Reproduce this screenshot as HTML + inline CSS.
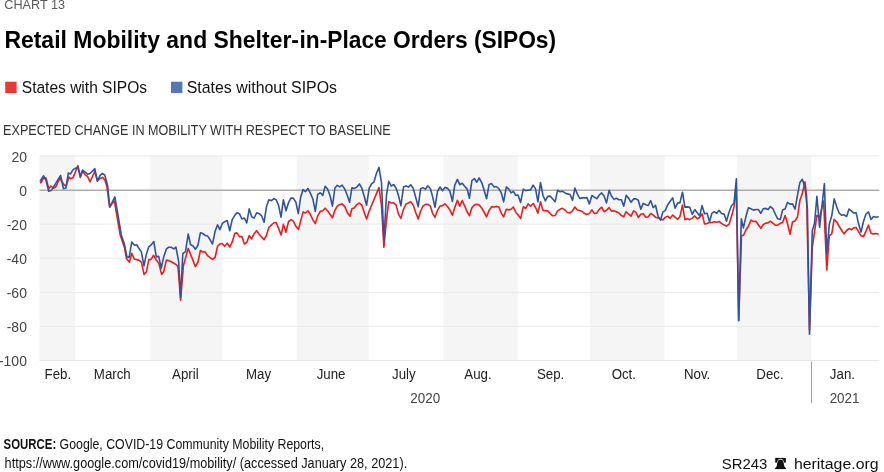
<!DOCTYPE html>
<html lang="en"><head><meta charset="utf-8"><title>Retail Mobility and Shelter-in-Place Orders (SIPOs)</title>
<style>html,body{margin:0;padding:0;background:#fff;overflow:hidden}svg{display:block}text{font-family:"Liberation Sans",sans-serif}</style></head><body>
<svg width="884" height="472" viewBox="0 0 884 472">
<rect width="884" height="472" fill="#fff"/>
<rect x="39.5" y="155.9" width="35.7" height="204.6" fill="#f5f5f5"/>
<rect x="149.8" y="155.9" width="72.2" height="204.6" fill="#f5f5f5"/>
<rect x="296.6" y="155.9" width="72.2" height="204.6" fill="#f5f5f5"/>
<rect x="443.3" y="155.9" width="74.6" height="204.6" fill="#f5f5f5"/>
<rect x="590.1" y="155.9" width="74.6" height="204.6" fill="#f5f5f5"/>
<rect x="736.9" y="155.9" width="74.6" height="204.6" fill="#f5f5f5"/>
<line x1="39.5" x2="879.4" y1="155.9" y2="155.9" stroke="#e9e9e9" stroke-width="1"/>
<line x1="39.5" x2="879.4" y1="224.1" y2="224.1" stroke="#e9e9e9" stroke-width="1"/>
<line x1="39.5" x2="879.4" y1="258.2" y2="258.2" stroke="#e9e9e9" stroke-width="1"/>
<line x1="39.5" x2="879.4" y1="292.3" y2="292.3" stroke="#e9e9e9" stroke-width="1"/>
<line x1="39.5" x2="879.4" y1="326.4" y2="326.4" stroke="#e9e9e9" stroke-width="1"/>
<line x1="39.5" x2="879.4" y1="360.5" y2="360.5" stroke="#e6e6e6" stroke-width="1.2"/>
<rect x="39.5" y="189.5" width="839.9" height="1.5" fill="#acacac"/>
<line x1="811.5" x2="811.5" y1="361.5" y2="403.3" stroke="#8a8a8a" stroke-width="0.8"/>
<polyline fill="none" stroke="#ec1c1c" stroke-width="1.6" stroke-linejoin="round" stroke-linecap="butt" points="40.0,183.1 41.3,182.3 43.6,177.8 46.1,178.1 48.7,188.7 50.8,186.0 53.5,188.2 55.6,187.1 59.9,178.1 62.0,181.8 64.1,185.0 66.2,186.0 68.9,177.0 70.5,178.8 73.1,177.6 77.9,165.7 80.3,177.4 82.6,171.2 85.3,174.9 87.6,176.5 90.1,181.8 94.8,171.2 97.4,180.7 100.1,178.4 102.5,177.4 104.8,179.7 107.0,187.1 109.6,206.8 114.4,201.0 120.2,235.0 121.5,238.8 124.4,247.3 126.5,258.5 129.4,262.2 131.8,253.2 134.2,259.0 136.6,259.6 138.9,260.1 141.4,262.2 144.0,274.4 146.5,271.8 148.8,259.6 150.9,259.6 153.6,255.3 156.3,260.1 158.9,263.3 161.6,274.4 163.7,271.8 166.4,260.1 168.5,260.6 171.1,261.7 173.8,263.3 176.5,264.9 178.0,266.7 180.6,300.2 183.4,265.6 188.2,248.4 192.9,260.1 195.4,266.5 198.0,262.2 200.4,250.5 202.6,252.0 205.0,251.7 207.5,255.7 209.8,257.3 212.5,259.4 215.1,257.3 217.6,246.2 219.9,244.0 222.1,243.5 224.7,246.2 227.2,243.2 229.8,247.0 232.2,241.9 234.8,233.4 236.9,232.9 239.4,236.6 241.9,236.6 244.4,244.0 246.8,242.4 249.2,235.5 251.5,238.9 254.0,233.9 256.6,230.7 259.3,234.5 264.1,239.6 266.4,235.5 268.8,227.5 271.5,224.9 274.2,222.5 276.3,222.8 278.7,228.6 281.1,235.0 283.4,224.4 285.9,232.3 288.5,221.7 290.9,219.6 293.2,220.9 295.9,226.3 298.5,229.4 300.7,220.9 303.1,211.9 305.4,213.0 307.9,210.8 310.2,214.0 312.9,219.9 315.3,223.6 317.7,216.2 320.3,211.4 322.8,210.8 325.1,208.2 327.6,210.8 330.1,214.6 332.4,217.7 334.9,210.3 337.3,206.1 339.8,204.5 342.1,203.9 344.8,206.6 347.5,213.0 350.0,216.2 351.9,208.8 354.4,207.8 356.8,204.6 359.4,203.0 361.8,205.1 364.2,212.5 366.6,218.9 369.2,211.0 379.0,187.6 381.5,205.6 383.9,247.1 386.3,221.6 388.7,201.6 391.3,203.0 393.7,202.7 396.1,205.1 398.5,214.1 400.9,218.4 403.5,209.4 405.9,204.0 408.4,203.0 410.7,201.6 413.2,205.1 415.7,212.5 418.2,218.9 420.6,211.0 422.9,206.2 425.4,204.4 427.8,204.4 430.4,206.2 432.5,213.1 435.0,217.3 437.5,210.4 440.0,206.2 442.5,205.6 444.9,203.8 447.3,206.2 449.9,209.9 452.4,215.2 454.7,207.7 457.4,200.3 459.8,206.2 462.2,200.6 464.8,206.2 467.2,212.0 469.4,215.7 471.9,207.7 474.4,205.1 476.8,204.3 479.2,205.1 481.8,208.3 484.3,212.5 486.6,216.8 489.1,210.4 491.6,206.7 494.1,207.0 496.2,206.4 498.8,207.0 501.3,213.1 503.6,216.8 506.3,209.3 508.7,209.9 511.1,209.3 513.4,207.0 515.9,212.5 518.0,214.7 520.6,218.4 523.3,206.7 525.7,208.5 528.1,203.8 530.5,206.2 533.1,203.5 535.5,207.2 537.9,213.1 540.5,201.7 543.0,210.4 545.4,210.6 547.7,210.9 550.2,213.6 552.5,215.7 555.2,215.5 557.6,210.9 560.0,209.3 562.4,208.3 565.1,210.2 567.4,212.5 570.1,212.9 572.5,210.9 574.9,207.0 577.3,209.9 579.7,210.6 582.3,211.5 584.4,213.4 586.9,214.4 589.3,213.6 591.9,209.9 594.3,213.4 596.8,213.1 599.3,209.3 601.7,207.2 604.1,211.7 606.5,210.3 609.1,207.6 611.5,211.1 614.0,210.8 616.3,211.7 619.0,213.0 621.4,215.6 623.8,216.7 626.2,211.7 628.6,214.2 631.0,216.2 633.6,210.8 636.0,212.4 638.3,217.4 640.8,214.2 643.2,213.8 645.8,217.2 648.2,216.7 650.7,213.5 653.2,215.1 655.5,217.2 658.1,218.1 660.5,218.8 662.9,219.9 665.2,217.4 667.7,216.2 670.2,218.3 672.7,215.1 675.1,217.2 677.7,219.3 679.9,216.7 682.5,205.0 684.9,219.6 687.5,218.8 689.8,219.7 692.3,218.1 694.8,215.9 697.3,218.8 699.6,217.5 702.1,213.8 704.5,223.9 706.9,223.6 709.4,222.5 711.9,222.5 714.4,221.7 716.8,222.2 719.1,221.5 721.8,223.6 724.2,225.0 726.6,226.1 729.2,224.1 731.9,215.1 734.2,206.1 736.2,183.7 738.7,320.4 741.5,235.8 743.6,235.3 745.9,230.0 748.4,226.3 751.0,220.1 753.5,221.5 756.0,221.2 758.3,224.7 760.8,228.2 763.3,224.7 765.7,223.1 768.1,222.9 770.4,221.2 772.8,223.1 775.3,225.2 777.6,225.2 780.3,223.3 782.7,222.5 785.1,215.6 787.4,223.1 790.1,234.2 792.5,222.0 795.1,220.7 797.5,217.0 799.9,200.5 802.3,193.6 805.0,181.9 806.6,196.3 809.5,330.0 812.3,247.5 816.9,215.4 819.6,217.5 823.6,201.1 826.8,270.0 829.3,235.8 831.8,233.7 834.1,219.4 836.8,222.0 839.1,226.3 841.8,230.5 844.0,233.9 846.6,230.5 849.0,228.6 851.5,229.7 853.8,227.9 856.1,227.5 858.6,231.6 861.0,235.8 863.6,236.4 866.0,231.1 868.5,225.2 871.0,233.2 873.5,233.9 875.9,233.5 878.8,234.2"/>
<polyline fill="none" stroke="#2e539f" stroke-width="1.6" stroke-linejoin="round" stroke-linecap="butt" points="40.0,181.5 43.6,175.8 46.1,180.7 48.7,191.3 51.4,190.3 60.6,175.4 63.4,188.7 65.9,188.0 68.3,173.1 70.5,173.9 73.1,169.6 77.9,167.0 80.3,176.5 82.6,170.1 87.6,174.2 90.1,173.5 94.8,168.6 97.4,181.3 100.1,175.4 102.5,173.5 104.8,175.2 107.5,185.0 109.8,207.1 114.9,196.9 121.3,235.0 124.4,244.1 127.0,256.9 129.1,257.4 131.8,242.0 134.5,245.2 136.6,244.7 141.4,252.1 144.0,265.9 146.2,254.8 148.8,246.8 150.9,245.2 153.8,241.5 156.3,256.9 158.7,256.4 161.3,268.1 163.7,256.9 166.4,248.9 168.5,247.3 171.1,247.3 173.8,248.9 175.9,247.1 178.6,261.2 180.6,297.5 182.1,267.5 182.8,253.7 185.5,251.6 188.2,234.0 190.6,244.7 192.9,245.7 195.4,249.2 198.0,245.2 200.4,232.7 202.5,233.3 205.4,235.5 207.7,236.1 210.4,240.3 212.5,244.0 215.1,231.3 217.6,224.9 219.9,229.7 222.4,223.3 224.7,221.7 227.2,220.6 229.8,230.7 232.2,219.6 234.5,215.8 236.9,212.7 239.4,213.7 241.9,219.0 244.4,218.0 246.8,222.8 249.2,208.9 251.8,216.9 254.3,218.0 256.6,212.7 259.3,213.7 261.6,215.8 264.1,222.2 266.4,207.1 268.8,199.7 271.4,200.7 273.9,198.6 276.2,199.7 278.6,205.5 281.0,217.2 283.4,199.7 286.0,210.8 288.4,202.9 290.9,198.1 293.2,198.1 295.9,202.3 298.3,213.5 300.7,197.0 303.1,189.6 305.4,191.7 307.9,188.5 310.2,192.8 312.9,199.1 315.3,211.4 317.7,194.4 320.3,192.8 322.8,195.4 325.1,186.4 327.6,189.0 330.1,196.0 332.4,206.1 334.9,188.0 337.3,185.3 339.8,186.9 342.1,185.1 344.8,189.0 347.5,196.0 349.6,202.3 351.9,187.9 354.4,188.5 356.8,187.1 359.4,183.9 361.8,188.2 364.2,196.2 366.6,205.2 369.2,188.2 371.6,183.9 374.0,181.8 376.5,173.3 379.0,167.4 381.5,182.9 383.9,240.3 386.5,195.1 388.7,181.3 391.3,186.1 393.7,184.5 396.1,188.2 398.5,195.6 400.9,205.7 403.5,187.1 405.9,186.1 408.4,187.1 410.7,184.7 413.2,188.2 415.7,197.2 418.2,206.8 420.6,188.7 422.9,187.6 425.4,189.2 427.8,185.8 430.4,188.7 432.5,196.2 435.0,207.2 437.5,191.3 440.0,187.0 442.5,190.7 444.9,187.5 447.3,188.1 449.9,191.3 452.4,201.4 454.7,185.4 457.4,179.4 459.8,184.7 462.2,183.3 464.8,186.5 467.2,189.1 469.4,198.2 471.9,180.6 474.4,178.5 476.8,182.2 479.2,178.0 481.8,182.8 484.3,190.7 486.6,198.7 489.1,184.4 491.6,183.6 494.1,187.0 496.2,186.5 498.8,188.6 501.3,192.9 503.6,201.9 506.3,187.0 508.7,188.9 511.1,192.9 513.4,191.3 515.9,195.5 518.0,195.0 520.6,202.4 523.3,189.1 525.7,190.7 528.1,190.0 530.5,190.0 533.1,185.2 535.5,188.6 537.9,201.9 540.5,182.5 543.0,195.5 545.4,200.8 547.7,196.4 550.2,196.1 552.5,198.7 555.2,201.7 557.6,190.2 560.0,191.8 562.4,191.3 565.1,192.9 567.4,193.9 570.1,194.5 572.5,200.3 574.9,188.1 577.3,193.9 579.7,198.5 582.3,197.9 584.4,197.9 586.9,197.6 589.3,204.0 591.9,195.5 594.3,197.1 596.8,198.7 599.3,195.0 601.7,192.9 604.1,196.0 606.5,202.9 609.1,190.4 611.5,196.0 614.0,199.4 616.3,198.3 619.0,199.7 621.4,199.7 623.8,206.1 626.2,195.4 628.6,198.1 631.0,202.3 633.6,198.9 636.0,198.9 638.3,200.2 640.8,209.2 643.2,203.4 645.8,204.7 648.2,205.5 650.7,200.7 653.2,207.6 655.5,205.3 658.1,216.2 660.5,220.2 662.9,211.9 665.2,210.6 667.7,205.0 670.2,201.3 672.7,197.9 675.1,208.2 677.7,202.9 679.9,202.9 682.5,192.2 684.9,207.1 687.5,206.9 689.8,207.4 692.3,214.3 694.8,209.6 697.3,212.7 699.6,215.9 702.1,205.6 704.5,213.8 707.1,213.3 709.5,221.8 711.9,213.3 714.3,211.7 716.7,213.3 719.1,210.3 721.5,213.5 724.1,214.1 726.5,221.3 729.0,212.2 731.5,205.8 734.0,203.2 736.4,178.7 738.7,320.8 741.3,218.8 743.4,227.9 745.9,216.7 748.4,207.7 751.0,208.7 753.5,210.1 756.0,209.5 758.3,209.5 760.8,213.3 763.3,208.7 765.7,208.4 768.1,209.5 770.4,206.6 772.8,208.7 775.3,214.0 777.6,218.8 780.3,219.4 782.7,209.8 785.1,209.0 787.4,202.4 790.1,204.2 792.5,203.9 795.1,209.2 797.5,195.2 799.9,182.4 802.3,179.3 805.0,187.8 807.4,209.0 809.5,334.2 812.3,230.5 814.5,223.6 816.9,196.3 819.6,227.3 824.4,183.5 826.8,254.0 829.3,224.1 831.8,215.6 834.2,198.9 836.8,207.1 839.1,213.0 841.8,215.3 844.0,214.8 846.6,216.5 849.0,209.0 851.5,211.2 853.8,213.0 856.1,212.7 858.6,224.1 861.0,232.1 863.6,221.0 866.0,214.0 868.5,211.9 871.0,219.4 873.5,216.5 875.9,217.2 878.8,216.7"/>
<text transform="translate(26.9,161.7) scale(0.95,1)" font-size="14.7" fill="#444" text-anchor="end">20</text>
<text transform="translate(26.9,195.8) scale(0.95,1)" font-size="14.7" fill="#444" text-anchor="end">0</text>
<text transform="translate(26.9,229.9) scale(0.95,1)" font-size="14.7" fill="#444" text-anchor="end">-20</text>
<text transform="translate(26.9,264.0) scale(0.95,1)" font-size="14.7" fill="#444" text-anchor="end">-40</text>
<text transform="translate(26.9,298.1) scale(0.95,1)" font-size="14.7" fill="#444" text-anchor="end">-60</text>
<text transform="translate(26.9,332.2) scale(0.95,1)" font-size="14.7" fill="#444" text-anchor="end">-80</text>
<text transform="translate(26.9,366.3) scale(0.95,1)" font-size="14.7" fill="#444" text-anchor="end">-100</text>
<text transform="translate(57.9,379.1) scale(0.93,1)" font-size="14.3" fill="#222" text-anchor="middle">Feb.</text>
<text transform="translate(112.3,379.1) scale(0.93,1)" font-size="14.3" fill="#222" text-anchor="middle">March</text>
<text transform="translate(185.4,379.1) scale(0.93,1)" font-size="14.3" fill="#222" text-anchor="middle">April</text>
<text transform="translate(258.6,379.1) scale(0.93,1)" font-size="14.3" fill="#222" text-anchor="middle">May</text>
<text transform="translate(331.1,379.1) scale(0.93,1)" font-size="14.3" fill="#222" text-anchor="middle">June</text>
<text transform="translate(403.9,379.1) scale(0.93,1)" font-size="14.3" fill="#222" text-anchor="middle">July</text>
<text transform="translate(478.0,379.1) scale(0.93,1)" font-size="14.3" fill="#222" text-anchor="middle">Aug.</text>
<text transform="translate(550.6,379.1) scale(0.93,1)" font-size="14.3" fill="#222" text-anchor="middle">Sep.</text>
<text transform="translate(623.8,379.1) scale(0.93,1)" font-size="14.3" fill="#222" text-anchor="middle">Oct.</text>
<text transform="translate(697.1,379.1) scale(0.93,1)" font-size="14.3" fill="#222" text-anchor="middle">Nov.</text>
<text transform="translate(770.0,379.1) scale(0.93,1)" font-size="14.3" fill="#222" text-anchor="middle">Dec.</text>
<text transform="translate(842.4,379.1) scale(0.93,1)" font-size="14.3" fill="#222" text-anchor="middle">Jan.</text>
<text transform="translate(425.2,403.3) scale(0.96,1)" font-size="14" fill="#444" text-anchor="middle">2020</text>
<text transform="translate(844.6,403.3) scale(0.96,1)" font-size="14" fill="#444" text-anchor="middle">2021</text>
<text x="4.3" y="8.8" font-size="13.6" fill="#5a5a5a" textLength="60.8" lengthAdjust="spacingAndGlyphs">CHART 13</text>
<text y="47.7" font-size="24.3" font-weight="bold" fill="#000"><tspan x="4.4" textLength="294.6" lengthAdjust="spacingAndGlyphs">Retail Mobility and Shelter-</tspan><tspan x="299.5" textLength="256.6" lengthAdjust="spacingAndGlyphs">in-Place Orders (SIPOs)</tspan></text>
<rect x="5.2" y="81.7" width="11.4" height="11.4" fill="#ea3a35"/>
<text x="21.8" y="93" font-size="17.2" fill="#111" textLength="125.2" lengthAdjust="spacingAndGlyphs">States with SIPOs</text>
<rect x="171" y="81.7" width="11.4" height="11.4" fill="#5777b4"/>
<text x="186.7" y="93" font-size="17.2" fill="#111" textLength="150.3" lengthAdjust="spacingAndGlyphs">States without SIPOs</text>
<text x="3.1" y="135.4" font-size="14.5" fill="#333" textLength="387.6" lengthAdjust="spacingAndGlyphs">EXPECTED CHANGE IN MOBILITY WITH RESPECT TO BASELINE</text>
<text x="3.6" y="449.1" font-size="15.5" font-weight="bold" fill="#111" textLength="52.6" lengthAdjust="spacingAndGlyphs">SOURCE:</text>
<text x="59.6" y="449.1" font-size="15.5" fill="#111" textLength="264.5" lengthAdjust="spacingAndGlyphs">Google, COVID-19 Community Mobility Reports,</text>
<text x="4.6" y="467.6" font-size="15.5" fill="#111" textLength="402.6" lengthAdjust="spacingAndGlyphs">https://www.google.com/covid19/mobility/ (accessed January 28, 2021).</text>
<text x="721.8" y="468.8" font-size="15.3" fill="#111" textLength="45.6" lengthAdjust="spacingAndGlyphs">SR243</text>
<text x="793.9" y="468.8" font-size="15.3" fill="#111" textLength="84.7" lengthAdjust="spacingAndGlyphs">heritage.org</text>
<g><rect x="775.2" y="457.9" width="10.7" height="4.8" fill="#111"/><path d="M775.3 469.1V467.9L776.7 466.300C777.300 463.200 777.300 459.400 780.500 459.400C783.700 459.400 783.700 463.200 784.300 466.300L785.7 467.9V469.1Z" fill="#111" stroke="#fff" stroke-width="1.3" paint-order="stroke"/><rect x="775.3" y="467.9" width="10.4" height="1.2" fill="#111"/></g>
</svg></body></html>
